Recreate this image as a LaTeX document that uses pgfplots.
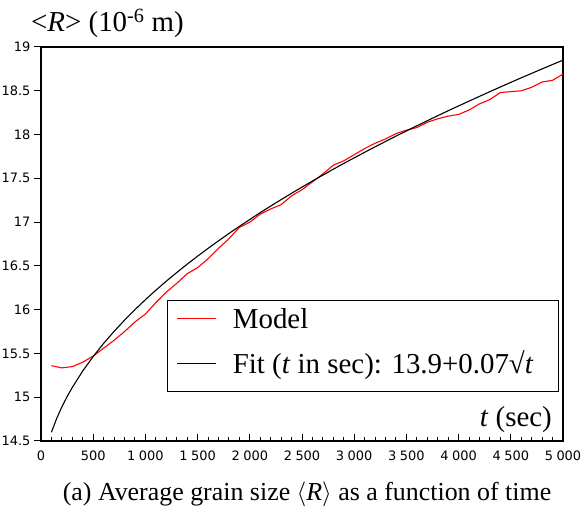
\documentclass[border=0pt]{standalone}
\usepackage{fontspec}
\setmainfont{Liberation Serif}
\newfontfamily\dejavusans{DejaVu Sans}
\usepackage{pgfplots}
\pgfplotsset{compat=1.18}
\begin{document}
\begin{tikzpicture}
\path[use as bounding box] (0,0) rectangle (587bp,510bp);
\begin{axis}[
  at={(41bp,69bp)}, anchor=south west,
  scale only axis, width=522bp, height=394bp,
  xmin=0, xmax=5000, ymin=14.5, ymax=19,
  xtick={0,500,...,5000}, minor x tick num=4,
  ytick={14.5,15,15.5,16,16.5,17,17.5,18,18.5,19},
  tick pos=left,
  xtick align=inside, ytick align=outside,
  axis line style={line width=1.1bp},
  every tick/.style={black, line width=1bp},
  major tick length=7bp, minor tick length=4bp,
  tick label style={font=\fontsize{13}{15}\selectfont\dejavusans},
  xticklabel style={yshift=-6bp},
  /pgf/number format/.cd, 1000 sep={\hspace{3.5bp}}, assume math mode=true,
  /pgfplots/.cd,
  legend style={at={(rel axis cs:0.9923,0.1244)}, anchor=south east,
    draw=black, line width=1.1bp, inner xsep=9bp, inner ysep=7bp,
    column sep=14bp, row sep=13bp,
    font=\fontsize{29}{32}\selectfont,
    nodes={inner sep=2bp, text height=19bp, text depth=9bp}},
  legend cell align=left,
  legend image code/.code={\draw[#1] (0bp,5bp) -- (39bp,5bp);},
]
\addplot[red, line width=1.1bp] coordinates {
(100,15.36) (200,15.335) (300,15.35) (400,15.40) (500,15.47) (600,15.56)
(700,15.65) (800,15.75) (900,15.86) (1000,15.95) (1100,16.08) (1200,16.20)
(1300,16.30) (1400,16.41) (1500,16.48) (1600,16.58) (1700,16.70) (1800,16.81)
(1900,16.94) (2000,17.00) (2100,17.09) (2200,17.15) (2300,17.20) (2400,17.30)
(2500,17.37) (2600,17.46) (2700,17.55) (2800,17.65) (2900,17.70) (3000,17.77)
(3100,17.84) (3200,17.90) (3300,17.95) (3400,18.01) (3500,18.05) (3600,18.08)
(3700,18.14) (3800,18.18) (3900,18.21) (4000,18.23) (4100,18.28) (4200,18.35)
(4300,18.40) (4400,18.48) (4500,18.49) (4600,18.50) (4700,18.54) (4800,18.60)
(4900,18.62) (5000,18.69)
};
\addlegendentry{Model}
\addplot[black, line width=1.1bp] coordinates {
(100,14.600) (150,14.757) (200,14.890) (250,15.007) (300,15.112) (400,15.300)
(500,15.465) (600,15.615) (700,15.752) (800,15.880) (900,16.000) (1000,16.114)
(1100,16.222) (1200,16.325) (1300,16.424) (1400,16.519) (1500,16.611) (1600,16.700)
(1700,16.786) (1800,16.870) (1900,16.951) (2000,17.030) (2100,17.108) (2200,17.183)
(2300,17.257) (2400,17.329) (2500,17.400) (2600,17.469) (2700,17.537) (2800,17.604)
(2900,17.670) (3000,17.734) (3100,17.797) (3200,17.860) (3300,17.921) (3400,17.982)
(3500,18.041) (3600,18.100) (3700,18.158) (3800,18.215) (3900,18.272) (4000,18.327)
(4100,18.382) (4200,18.436) (4300,18.490) (4400,18.543) (4500,18.596) (4600,18.648)
(4700,18.699) (4800,18.750) (4900,18.800) (5000,18.850)
};
\addlegendentry{Fit (\textit{t} in sec): 13.9+0.07√\textit{t}\hspace*{14bp}}
\end{axis}
\node[anchor=base west, inner sep=0, font=\fontsize{29}{32}\selectfont] at (31bp,478bp) {<\textit{R}> (10\textsuperscript{-6} m)};
\node[anchor=base east, inner sep=0, font=\fontsize{29}{32}\selectfont] at (552bp,83bp) {\textit{t} (sec)};
\node[anchor=base, inner sep=0, font=\fontsize{26}{30}\selectfont] at (307bp,10bp) {(a) Average grain size $\langle$\textit{R}$\rangle$ as a function of time};
\end{tikzpicture}
\end{document}
